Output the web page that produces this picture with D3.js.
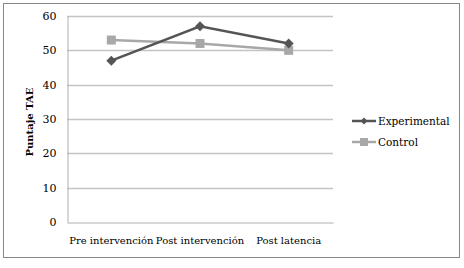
<!DOCTYPE html>
<html><head><meta charset="utf-8">
<script src="https://cdn.jsdelivr.net/npm/d3@7"></script>
<style>body{margin:0;background:#fff}svg{display:block}</style>
</head><body>
<script>
const categories = ["Pre intervención", "Post intervención", "Post latencia"];
const experimental = [47, 57, 52];
const control = [53, 52, 50];
const seriesNames = ["Experimental", "Control"];
const yTicks = [0, 10, 20, 30, 40, 50, 60];

const FONT = "'DejaVu Serif', serif";
const FS = 10;
const W = 464, H = 268;
const svg = d3.select("body").append("svg").attr("width", W).attr("height", H)
  .style("font-family", FONT);
svg.append("rect").attr("x", 3.5).attr("y", 3.5).attr("width", 456).attr("height", 254)
  .attr("fill", "#fff").attr("stroke", "#888").attr("stroke-width", 1);

const m = {left: 67, right: 333, top: 16, bottom: 222};
const x = d3.scaleBand().domain(categories).range([m.left, m.right]);
const y = d3.scaleLinear().domain([0, 60]).range([m.bottom, m.top]);

svg.append("g").selectAll("line").data(yTicks.filter(d => d > 0)).join("line")
  .attr("x1", m.left).attr("x2", m.right)
  .attr("y1", d => Math.round(y(d)) + 0.5).attr("y2", d => Math.round(y(d)) + 0.5)
  .attr("stroke", "#c4c4c4").attr("stroke-width", 1.3);

const yAxis = svg.append("g").attr("transform", `translate(${m.left + 0.5},0)`)
  .call(d3.axisLeft(y).tickValues(yTicks).tickSize(0).tickPadding(11));
yAxis.attr("font-family", null).attr("font-size", FS + 1);
yAxis.select(".domain").attr("stroke", "#b0b0b0");
yAxis.selectAll("text").attr("fill", "#000").style("font-family", FONT);

const xAxis = svg.append("g").attr("transform", `translate(0,${Math.round(y(0)) + 0.5})`)
  .call(d3.axisBottom(x).tickSize(0).tickPadding(14));
xAxis.attr("font-family", null).attr("font-size", FS);
xAxis.select(".domain").attr("stroke", "#b0b0b0");
xAxis.selectAll("text").attr("fill", "#000").style("font-family", FONT);

svg.append("text").attr("transform", `translate(33,${(m.top + m.bottom) / 2 + 3}) rotate(-90)`)
  .attr("text-anchor", "middle").attr("font-size", FS).attr("font-weight", "bold").text("Puntaje TAE");

const cx = c => x(c) + x.bandwidth() / 2;
const line = d3.line().x((d, i) => cx(categories[i])).y(d => y(d));

const colors = ["#555555", "#a8a8a8"];
const data = [experimental, control];

[1, 0].forEach(s => {
  svg.append("path").datum(data[s]).attr("d", line).attr("fill", "none")
    .attr("stroke", colors[s]).attr("stroke-width", 2.5);
});
[1, 0].forEach(s => {
  const g = svg.append("g");
  data[s].forEach((v, i) => {
    if (s === 1) {
      g.append("rect").attr("x", cx(categories[i]) - 4.5).attr("y", y(v) - 4.5)
        .attr("width", 9).attr("height", 9).attr("fill", colors[s]);
    } else {
      g.append("path").attr("transform", `translate(${cx(categories[i])},${y(v)})`)
        .attr("d", "M0,-5L5,0L0,5L-5,0Z").attr("fill", colors[s]);
    }
  });
});

const legY = [121, 142];
seriesNames.forEach((name, s) => {
  const g = svg.append("g").attr("transform", `translate(352,${legY[s]})`);
  g.append("line").attr("x1", 0).attr("x2", 24).attr("stroke", colors[s]).attr("stroke-width", 2.5);
  if (s === 1) g.append("rect").attr("x", 8).attr("y", -4).attr("width", 8).attr("height", 8).attr("fill", colors[s]);
  else g.append("path").attr("transform", "translate(12,0)").attr("d", "M0,-3.5L3.5,0L0,3.5L-3.5,0Z").attr("fill", colors[s]);
  g.append("text").attr("x", 26).attr("y", 4).attr("font-size", FS + 0.5).text(name);
});
</script>
</body></html>
